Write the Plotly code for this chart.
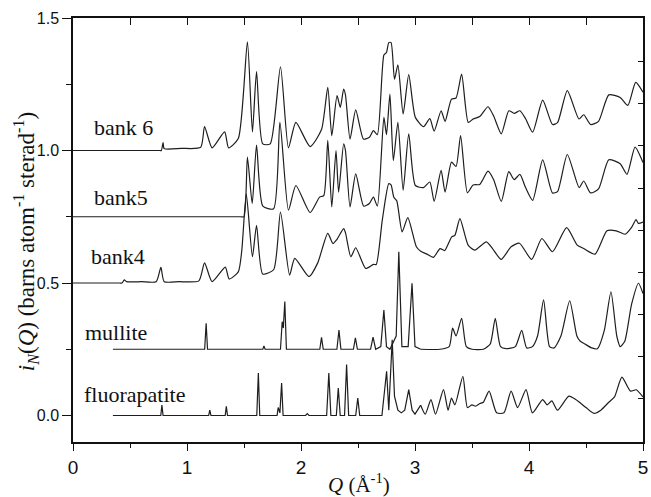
import plotly.graph_objects as go

# ---- data (Q in 1/Angstrom, plotted i_N(Q) incl. vertical offsets) ----
bank6_q = [0, 0.76, 0.775, 0.79, 0.80, 0.95, 1.12, 1.154, 1.22, 1.33, 1.365, 1.45, 1.53, 1.574, 1.61, 1.664, 1.73,
           1.82, 1.89, 1.955, 2.08, 2.18, 2.235, 2.27, 2.316, 2.345, 2.374, 2.39, 2.43, 2.48, 2.548, 2.6, 2.635,
           2.67, 2.727, 2.75, 2.77, 2.79, 2.82, 2.85, 2.896, 2.945, 3.003, 3.075, 3.13, 3.168, 3.229, 3.264,
           3.32, 3.36, 3.409, 3.467, 3.51, 3.568, 3.64, 3.69, 3.757, 3.823, 3.87, 3.92, 3.97, 4.032, 4.12,
           4.206, 4.25, 4.336, 4.438, 4.48, 4.54, 4.61, 4.70, 4.80, 4.867, 4.936, 5.0]
bank6_y = [1.0, 1.0, 1.0, 1.03, 1.007, 1.008, 1.012, 1.09, 1.01, 1.07, 1.01, 1.045, 1.41, 1.07, 1.298, 1.025, 1.025,
           1.316, 1.01, 1.106, 1.015, 1.079, 1.238, 1.056, 1.207, 1.163, 1.232, 1.21, 1.043, 1.153, 1.043, 1.05,
           1.075, 1.06, 1.36, 1.37, 1.407, 1.407, 1.269, 1.323, 1.138, 1.286, 1.125, 1.09, 1.12, 1.073, 1.15,
           1.11, 1.194, 1.198, 1.288, 1.106, 1.119, 1.128, 1.165, 1.13, 1.063, 1.15, 1.14, 1.15, 1.12, 1.069,
           1.19, 1.098, 1.105, 1.226, 1.119, 1.135, 1.098, 1.11, 1.21, 1.20, 1.17, 1.257, 1.22]

bank5_q = [0, 1.47, 1.5, 1.53, 1.572, 1.61, 1.665, 1.76, 1.815, 1.89, 1.955, 2.08, 2.163, 2.2, 2.235, 2.27, 2.307,
           2.33, 2.374, 2.39, 2.43, 2.48, 2.55, 2.6, 2.635, 2.67, 2.727, 2.75, 2.78, 2.81, 2.85, 2.896, 2.945,
           3.003, 3.075, 3.13, 3.168, 3.229, 3.264, 3.32, 3.36, 3.40, 3.46, 3.51, 3.568, 3.64, 3.69, 3.757,
           3.823, 3.87, 3.92, 3.97, 4.032, 4.12, 4.206, 4.25, 4.336, 4.44, 4.48, 4.54, 4.61, 4.70, 4.80, 4.86,
           4.93, 5.0]
bank5_y = [0.75, 0.75, 0.75, 0.975, 0.80, 1.02, 0.79, 0.78, 1.106, 0.775, 0.868, 0.766, 0.824, 0.83, 1.038, 0.787,
           1.0, 0.843, 1.025, 1.0, 0.787, 0.912, 0.79, 0.80, 0.824, 0.79, 1.125, 1.06, 1.213, 0.962, 1.106,
           0.85, 1.063, 0.868, 0.86, 0.881, 0.808, 0.925, 0.843, 0.956, 0.94, 1.056, 0.84, 0.87, 0.872, 0.922,
           0.89, 0.808, 0.92, 0.89, 0.91, 0.86, 0.812, 0.965, 0.84, 0.845, 0.985, 0.86, 0.885, 0.84, 0.855,
           0.965, 0.95, 0.91, 1.013, 0.955]

bank4_q = [0, 0.41, 0.43, 0.45, 0.47, 0.6, 0.73, 0.771, 0.8, 0.93, 1.104, 1.154, 1.22, 1.336, 1.37, 1.45, 1.48, 1.52,
           1.574, 1.61, 1.664, 1.76, 1.82, 1.9, 1.945, 2.07, 2.146, 2.235, 2.28, 2.316, 2.374, 2.39, 2.437, 2.48,
           2.567, 2.635, 2.66, 2.713, 2.77, 2.79, 2.814, 2.84, 2.887, 2.937, 3.012, 3.05, 3.104, 3.162, 3.22,
           3.26, 3.322, 3.35, 3.394, 3.466, 3.524, 3.626, 3.68, 3.756, 3.843, 3.916, 4.023, 4.113, 4.206, 4.33,
           4.423, 4.48, 4.58, 4.684, 4.765, 4.843, 4.9, 4.939, 4.96, 5.0]
bank4_y = [0.5, 0.5, 0.5, 0.512, 0.505, 0.505, 0.505, 0.559, 0.505, 0.505, 0.508, 0.576, 0.505, 0.56, 0.515, 0.542,
           0.62, 0.836, 0.599, 0.718, 0.534, 0.55, 0.768, 0.53, 0.593, 0.524, 0.575, 0.687, 0.649, 0.665, 0.705,
           0.69, 0.599, 0.633, 0.555, 0.57, 0.57, 0.737, 0.875, 0.87, 0.824, 0.81, 0.693, 0.747, 0.637, 0.62,
           0.609, 0.597, 0.63, 0.622, 0.674, 0.68, 0.743, 0.643, 0.624, 0.655, 0.63, 0.589, 0.637, 0.65, 0.589,
           0.668, 0.618, 0.709, 0.643, 0.63, 0.609, 0.697, 0.697, 0.684, 0.71, 0.739, 0.725, 0.73]

mullite_q = [0.35, 1.155, 1.168, 1.18, 1.665, 1.675, 1.685, 1.82, 1.835, 1.845, 1.858, 1.872, 2.165, 2.18, 2.195,
             2.315, 2.333, 2.35, 2.46, 2.477, 2.495, 2.61, 2.632, 2.655, 2.7, 2.727, 2.75, 2.78, 2.835, 2.858,
             2.885, 2.94, 2.974, 3.0, 3.05, 3.22, 3.3, 3.33, 3.36, 3.409, 3.45, 3.5, 3.6, 3.66, 3.704, 3.75, 3.8,
             3.88, 3.936, 3.98, 4.03, 4.075, 4.128, 4.18, 4.22, 4.28, 4.357, 4.42, 4.45, 4.49, 4.55, 4.6, 4.66,
             4.719, 4.77, 4.8, 4.84, 4.9, 4.96, 5.0]
mullite_y = [0.25, 0.25, 0.348, 0.25, 0.25, 0.262, 0.25, 0.25, 0.354, 0.33, 0.43, 0.25, 0.25, 0.295, 0.25,
             0.25, 0.322, 0.25, 0.25, 0.293, 0.25, 0.25, 0.296, 0.25, 0.26, 0.398, 0.26, 0.25, 0.30, 0.618,
             0.26, 0.26, 0.499, 0.26, 0.25, 0.25, 0.26, 0.33, 0.30, 0.367, 0.26, 0.25, 0.25, 0.27, 0.367, 0.26,
             0.252, 0.26, 0.321, 0.255, 0.26, 0.30, 0.436, 0.26, 0.255, 0.30, 0.433, 0.30, 0.28, 0.27, 0.255,
             0.252, 0.32, 0.467, 0.30, 0.26, 0.28, 0.42, 0.499, 0.46]

fluor_q = [0.35, 0.77, 0.78, 0.79, 1.19, 1.2, 1.21, 1.335, 1.345, 1.355, 1.612, 1.626, 1.638, 1.79, 1.80, 1.815,
           1.83, 1.843, 2.04, 2.055, 2.07, 2.225, 2.244, 2.262, 2.31, 2.327, 2.344, 2.382, 2.4, 2.418, 2.48,
           2.498, 2.515, 2.71, 2.751, 2.77, 2.80, 2.82, 2.85, 2.88, 2.91, 2.945, 2.975, 3.0, 3.05, 3.09, 3.14,
           3.18, 3.25, 3.29, 3.32, 3.35, 3.42, 3.46, 3.5, 3.53, 3.57, 3.6, 3.65, 3.716, 3.78, 3.843, 3.9,
           3.974, 4.03, 4.12, 4.16, 4.2, 4.25, 4.35, 4.41, 4.5, 4.57, 4.63, 4.7, 4.75, 4.815, 4.89, 4.94, 5.0]
fluor_y = [0, 0, 0.039, 0, 0, 0.02, 0, 0, 0.035, 0, 0, 0.16, 0, 0, 0.03, 0.01, 0.123, 0, 0, 0.007, 0, 0, 0.16,
           0, 0, 0.104, 0, 0, 0.192, 0, 0, 0.066, 0, 0, 0.167, 0.02, 0.286, 0.073, 0.02, 0.01, 0.02, 0.098,
           0.02, 0.005, 0.039, 0.005, 0.06, 0.005, 0.098, 0.02, 0.066, 0.04, 0.148, 0.03, 0.04, 0.035, 0.045,
           0.05, 0.092, 0.01, 0.01, 0.092, 0.03, 0.098, 0.01, 0.06, 0.04, 0.055, 0.02, 0.073, 0.06, 0.03, 0.008,
           0.02, 0.05, 0.07, 0.145, 0.092, 0.097, 0.07]

curve_labels = ["bank 6", "bank5", "bank4", "mullite", "fluorapatite"]
label_q = [0.165, 0.165, 0.14, 0.09, 0.075]
label_y = [1.086, 0.823, 0.60, 0.312, 0.079]

x_ticks = [0, 1, 2, 3, 4, 5]
y_ticks = [0.0, 0.5, 1.0, 1.5]
right_ticks = [0.063, 0.222, 0.381, 0.540, 0.699, 0.857, 1.018, 1.177, 1.335]
calc_split_q = 3.05  # calculated patterns: sharp lines below, smooth peaks above

LINE = "#1e1e1e"
SERIF = "Liberation Serif, Times New Roman, serif"
SANS = "Liberation Sans, Arial, sans-serif"

fig = go.Figure()


def add_line(qs, ys, shape):
    fig.add_trace(go.Scatter(x=qs, y=ys, mode="lines",
                             line=dict(color=LINE, width=1.2, shape=shape, smoothing=0.6),
                             showlegend=False, hoverinfo="skip"))


for qs, ys in [(bank6_q, bank6_y), (bank5_q, bank5_y), (bank4_q, bank4_y)]:
    add_line(qs, ys, "spline")

for qs, ys in [(mullite_q, mullite_y), (fluor_q, fluor_y)]:
    k = qs.index(calc_split_q)
    add_line(qs[:k + 1], ys[:k + 1], "linear")
    add_line(qs[k:], ys[k:], "spline")

# invisible trace for mirrored inner-tick axes
fig.add_trace(go.Scatter(x=[None], y=[None], xaxis="x2", yaxis="y2", showlegend=False,
                         hoverinfo="skip", mode="lines"))

for txt, q, yv in zip(curve_labels, label_q, label_y):
    fig.add_annotation(x=q, y=yv, text=txt, showarrow=False, xanchor="left", yanchor="middle",
                       font=dict(family=SERIF, size=22, color="#111"))

fig.add_annotation(xref="paper", yref="paper", x=-0.082, y=0.472, textangle=-90, showarrow=False,
                   text="<i>i</i><sub><i>N</i></sub>(<i>Q</i>) (barns atom<sup>-1</sup> sterad<sup>-1</sup>)",
                   font=dict(family=SERIF, size=23, color="#111"), xanchor="center", yanchor="middle")
fig.add_annotation(xref="paper", yref="paper", x=0.501, y=-0.098, showarrow=False,
                   text="<i>Q</i> (Å<sup>-1</sup>)",
                   font=dict(family=SERIF, size=21, color="#111"), xanchor="center", yanchor="middle")

fig.update_layout(
    width=651, height=497,
    margin=dict(l=73, r=3, t=18, b=55),
    paper_bgcolor="white", plot_bgcolor="white",
    xaxis=dict(range=[0, 5], tickvals=x_ticks, ticks="outside", ticklen=7, tickwidth=1.2,
               tickcolor="#111", showline=True, linecolor="#111", linewidth=1.5, mirror=True,
               showgrid=False, zeroline=False, ticklabeloverflow="allow",
               tickfont=dict(family=SANS, size=19, color="#111"),
               minor=dict(dtick=0.5, ticks="outside", ticklen=4, tickwidth=1.2, tickcolor="#111",
                          showgrid=False)),
    yaxis=dict(range=[-0.1, 1.5], tickvals=y_ticks, tickformat=".1f", ticks="outside", ticklen=9,
               tickwidth=1.2, tickcolor="#111", showline=True, linecolor="#111", linewidth=1.5,
               mirror=True, showgrid=False, zeroline=False,
               tickfont=dict(family=SANS, size=16, color="#111"),
               minor=dict(dtick=0.25, ticks="outside", ticklen=5, tickwidth=1.2, tickcolor="#111",
                          showgrid=False)),
    xaxis2=dict(overlaying="x", side="top", range=[0, 5], dtick=0.5, tick0=0, ticks="inside",
                ticklen=7, tickwidth=1.2, tickcolor="#111", showticklabels=False, showgrid=False,
                zeroline=False, showline=False),
    yaxis2=dict(overlaying="y", side="right", range=[-0.1, 1.5], tickvals=right_ticks, ticks="inside",
                ticklen=5, tickwidth=1.2, tickcolor="#111", showticklabels=False, showgrid=False,
                zeroline=False, showline=False),
)

fig.write_html("out.html", config={"displayModeBar": False},
               post_script="document.body.style.margin='0';")
